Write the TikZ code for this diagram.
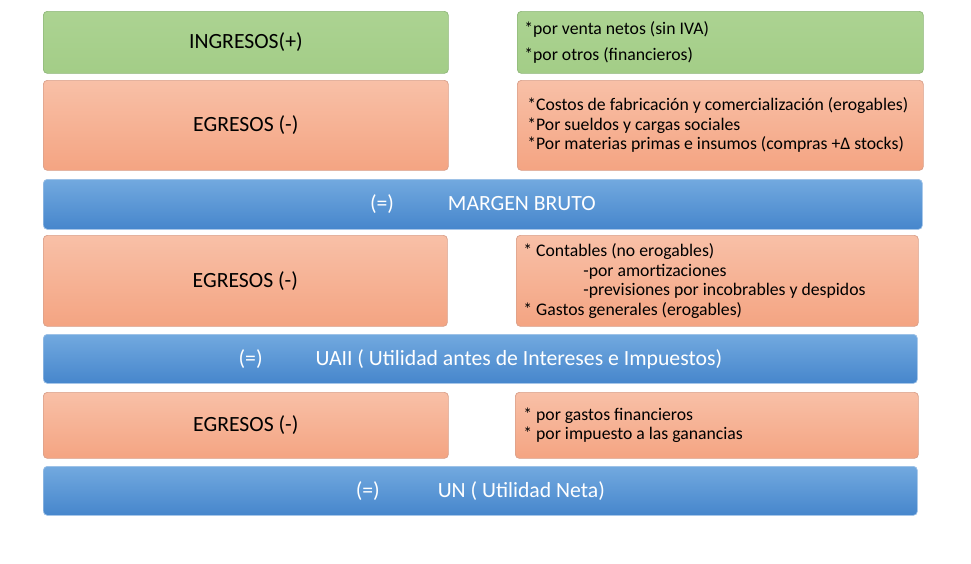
\documentclass[tikz,border=0pt]{standalone}
\usepackage{fontspec}
\setmainfont{Carlito}
\definecolor{gtop}{HTML}{ACD392}
\definecolor{gbot}{HTML}{A3CD87}
\definecolor{gline}{HTML}{8FB77A}
\definecolor{ptop}{HTML}{F8C0A7}
\definecolor{pbot}{HTML}{F4A482}
\definecolor{pline}{HTML}{D9A08A}
\definecolor{btop}{HTML}{72A9DF}
\definecolor{bbot}{HTML}{4686CC}
\definecolor{bline}{HTML}{9CC0E6}
\tikzset{
  base/.style={rounded corners=4pt, draw, line width=0.7pt, anchor=north west, inner sep=0pt},
  green/.style={base, top color=gtop, bottom color=gbot, draw=gline},
  peach/.style={base, top color=ptop, bottom color=pbot, draw=pline},
  blue/.style={base, top color=btop, bottom color=bbot, draw=bline, text=white},
  title/.style={font=\fontsize{21.7}{24}\selectfont, align=center},
  listbox/.style={font=\fontsize{17.7}{19.5}\selectfont, align=flush left, inner xsep=8pt}
}
\begin{document}
\begin{tikzpicture}[x=1pt, y=-1pt]
\useasboundingbox[fill=white] (0,0) rectangle (971,563);
% row 1
\node[green, title, minimum width=405pt, minimum height=62pt] (ing) at (43,11) {INGRESOS(+)};
\node[green, listbox, text width=392pt, minimum height=62pt, inner xsep=7pt] (ingl) at (517,11)
  {*por venta netos (sin IVA)\\[6.5pt]{}*por otros (financieros)};
% row 2
\node[peach, title, minimum width=405pt, minimum height=90pt] (eg1) at (43,80) {EGRESOS (-)};
\node[peach, listbox, text width=386pt, minimum height=90pt, inner xsep=10pt] (eg1l) at (517,80)
  {*Costos de fabricación y comercialización (erogables)\\{}*Por sueldos y cargas sociales\\{}*Por materias primas e insumos (compras +Δ stocks)};
% row 3
\node[blue, title, minimum width=879pt, minimum height=50pt] (mb) at (43,179) {(=)\hspace{54pt}MARGEN BRUTO};
% row 4
\node[peach, title, minimum width=404pt, minimum height=91pt] (eg2) at (43,235) {EGRESOS (-)};
\node[peach, listbox, text width=388pt, minimum height=91pt, inner xsep=7pt] (eg2l) at (516,235)
  {* Contables (no erogables)\\\hspace*{60pt}-por amortizaciones\\\hspace*{60pt}-previsiones por incobrables y despidos\\{}* Gastos generales (erogables)};
% row 5
\node[blue, title, minimum width=874pt, minimum height=49pt] (uaii) at (43,334) {(=)\hspace{53pt}UAII ( Utilidad antes de Intereses e Impuestos)};
% row 6
\node[peach, title, minimum width=405pt, minimum height=66pt] (eg3) at (43,392) {EGRESOS (-)};
\node[peach, listbox, text width=387pt, minimum height=66pt] (eg3l) at (515,392)
  {* por gastos financieros\\{}* por impuesto a las ganancias};
% row 7
\node[blue, title, minimum width=874pt, minimum height=49pt] (un) at (43,466) {(=)\hspace{58pt}UN ( Utilidad Neta)};
\end{tikzpicture}
\end{document}
